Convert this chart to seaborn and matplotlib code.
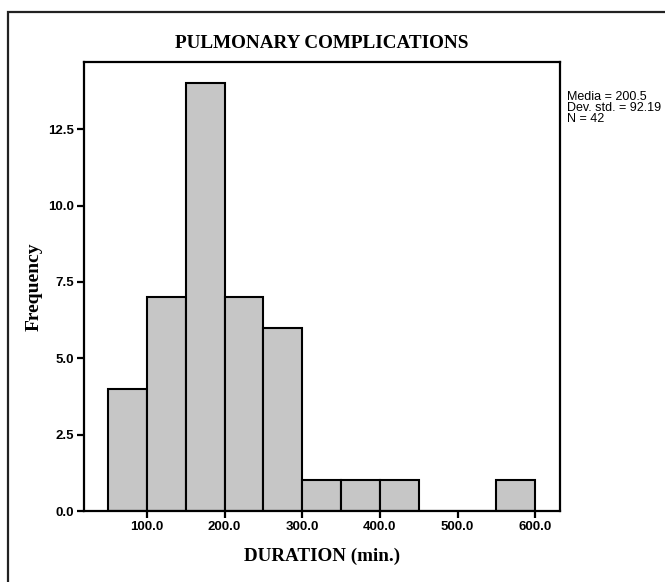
import matplotlib
matplotlib.use("Agg")
import matplotlib.pyplot as plt
import seaborn as sns
import pandas as pd
from matplotlib.patches import Rectangle

# Data
bin_edges = [50, 100, 150, 200, 250, 300, 350, 400, 450, 500, 550, 600]
bin_mids = [75, 125, 175, 225, 275, 325, 375, 425, 475, 525, 575]
counts = [4, 7, 14, 7, 6, 1, 1, 1, 0, 0, 1]
x_ticks = [100, 200, 300, 400, 500, 600]
x_tick_labels = ["100.0", "200.0", "300.0", "400.0", "500.0", "600.0"]
y_ticks = [0, 2.5, 5.0, 7.5, 10.0, 12.5]
y_tick_labels = ["0.0", "2.5", "5.0", "7.5", "10.0", "12.5"]
stats_text = "Media = 200.5\nDev. std. = 92.19\nN = 42"

df = pd.DataFrame({"duration": bin_mids, "count": counts})

sns.set_style("white")
plt.rcParams["font.family"] = ["Liberation Sans", "DejaVu Sans"]
plt.rcParams["text.color"] = "black"
plt.rcParams["axes.labelcolor"] = "black"
plt.rcParams["xtick.color"] = "black"
plt.rcParams["ytick.color"] = "black"

fig = plt.figure(figsize=(6.65, 5.82), dpi=100)
W, H = 665, 582
ax = fig.add_axes([84 / W, 1 - 511 / H, (560 - 84) / W, (511 - 62) / H])

sns.histplot(data=df, x="duration", weights="count", bins=bin_edges,
             color="#c6c6c6", alpha=1.0, edgecolor="black", linewidth=1.5, ax=ax)

ax.set_xlim(19, 632)
ax.set_ylim(0, 14.7)
ax.set_xticks(x_ticks)
ax.set_xticklabels(x_tick_labels)
ax.set_yticks(y_ticks)
ax.set_yticklabels(y_tick_labels)
ax.tick_params(axis="both", which="major", bottom=True, left=True,
               direction="out", length=5, width=1.6, color="black",
               labelcolor="black", labelsize=9.5, pad=2)
for lab in ax.get_xticklabels() + ax.get_yticklabels():
    lab.set_fontweight("bold")
for sp in ax.spines.values():
    sp.set_visible(True)
    sp.set_color("black")
    sp.set_linewidth(1.6)

ax.set_xlabel("DURATION (min.)", fontfamily="Liberation Serif", fontweight="bold",
              fontsize=13.7, labelpad=11, color="black")
ax.set_ylabel("Frequency", fontfamily="Liberation Serif", fontweight="bold",
              fontsize=14, labelpad=4, color="black")

fig.text(322 / W, 1 - 43 / H, "PULMONARY COMPLICATIONS", ha="center", va="center",
         fontfamily="Liberation Serif", fontweight="bold", fontsize=13.8, color="black")
fig.text(567 / W, 1 - 91 / H, stats_text, ha="left", va="top", fontsize=9,
         linespacing=0.9, color="black")

# Outer frame (extends past right/bottom edges)
fig.patches.append(Rectangle((8 / W, -0.05), 1.1, 1 - 12 / H + 0.05,
                             transform=fig.transFigure, fill=False,
                             edgecolor="#222222", linewidth=1.6))

fig.savefig("out.png", dpi=100)
